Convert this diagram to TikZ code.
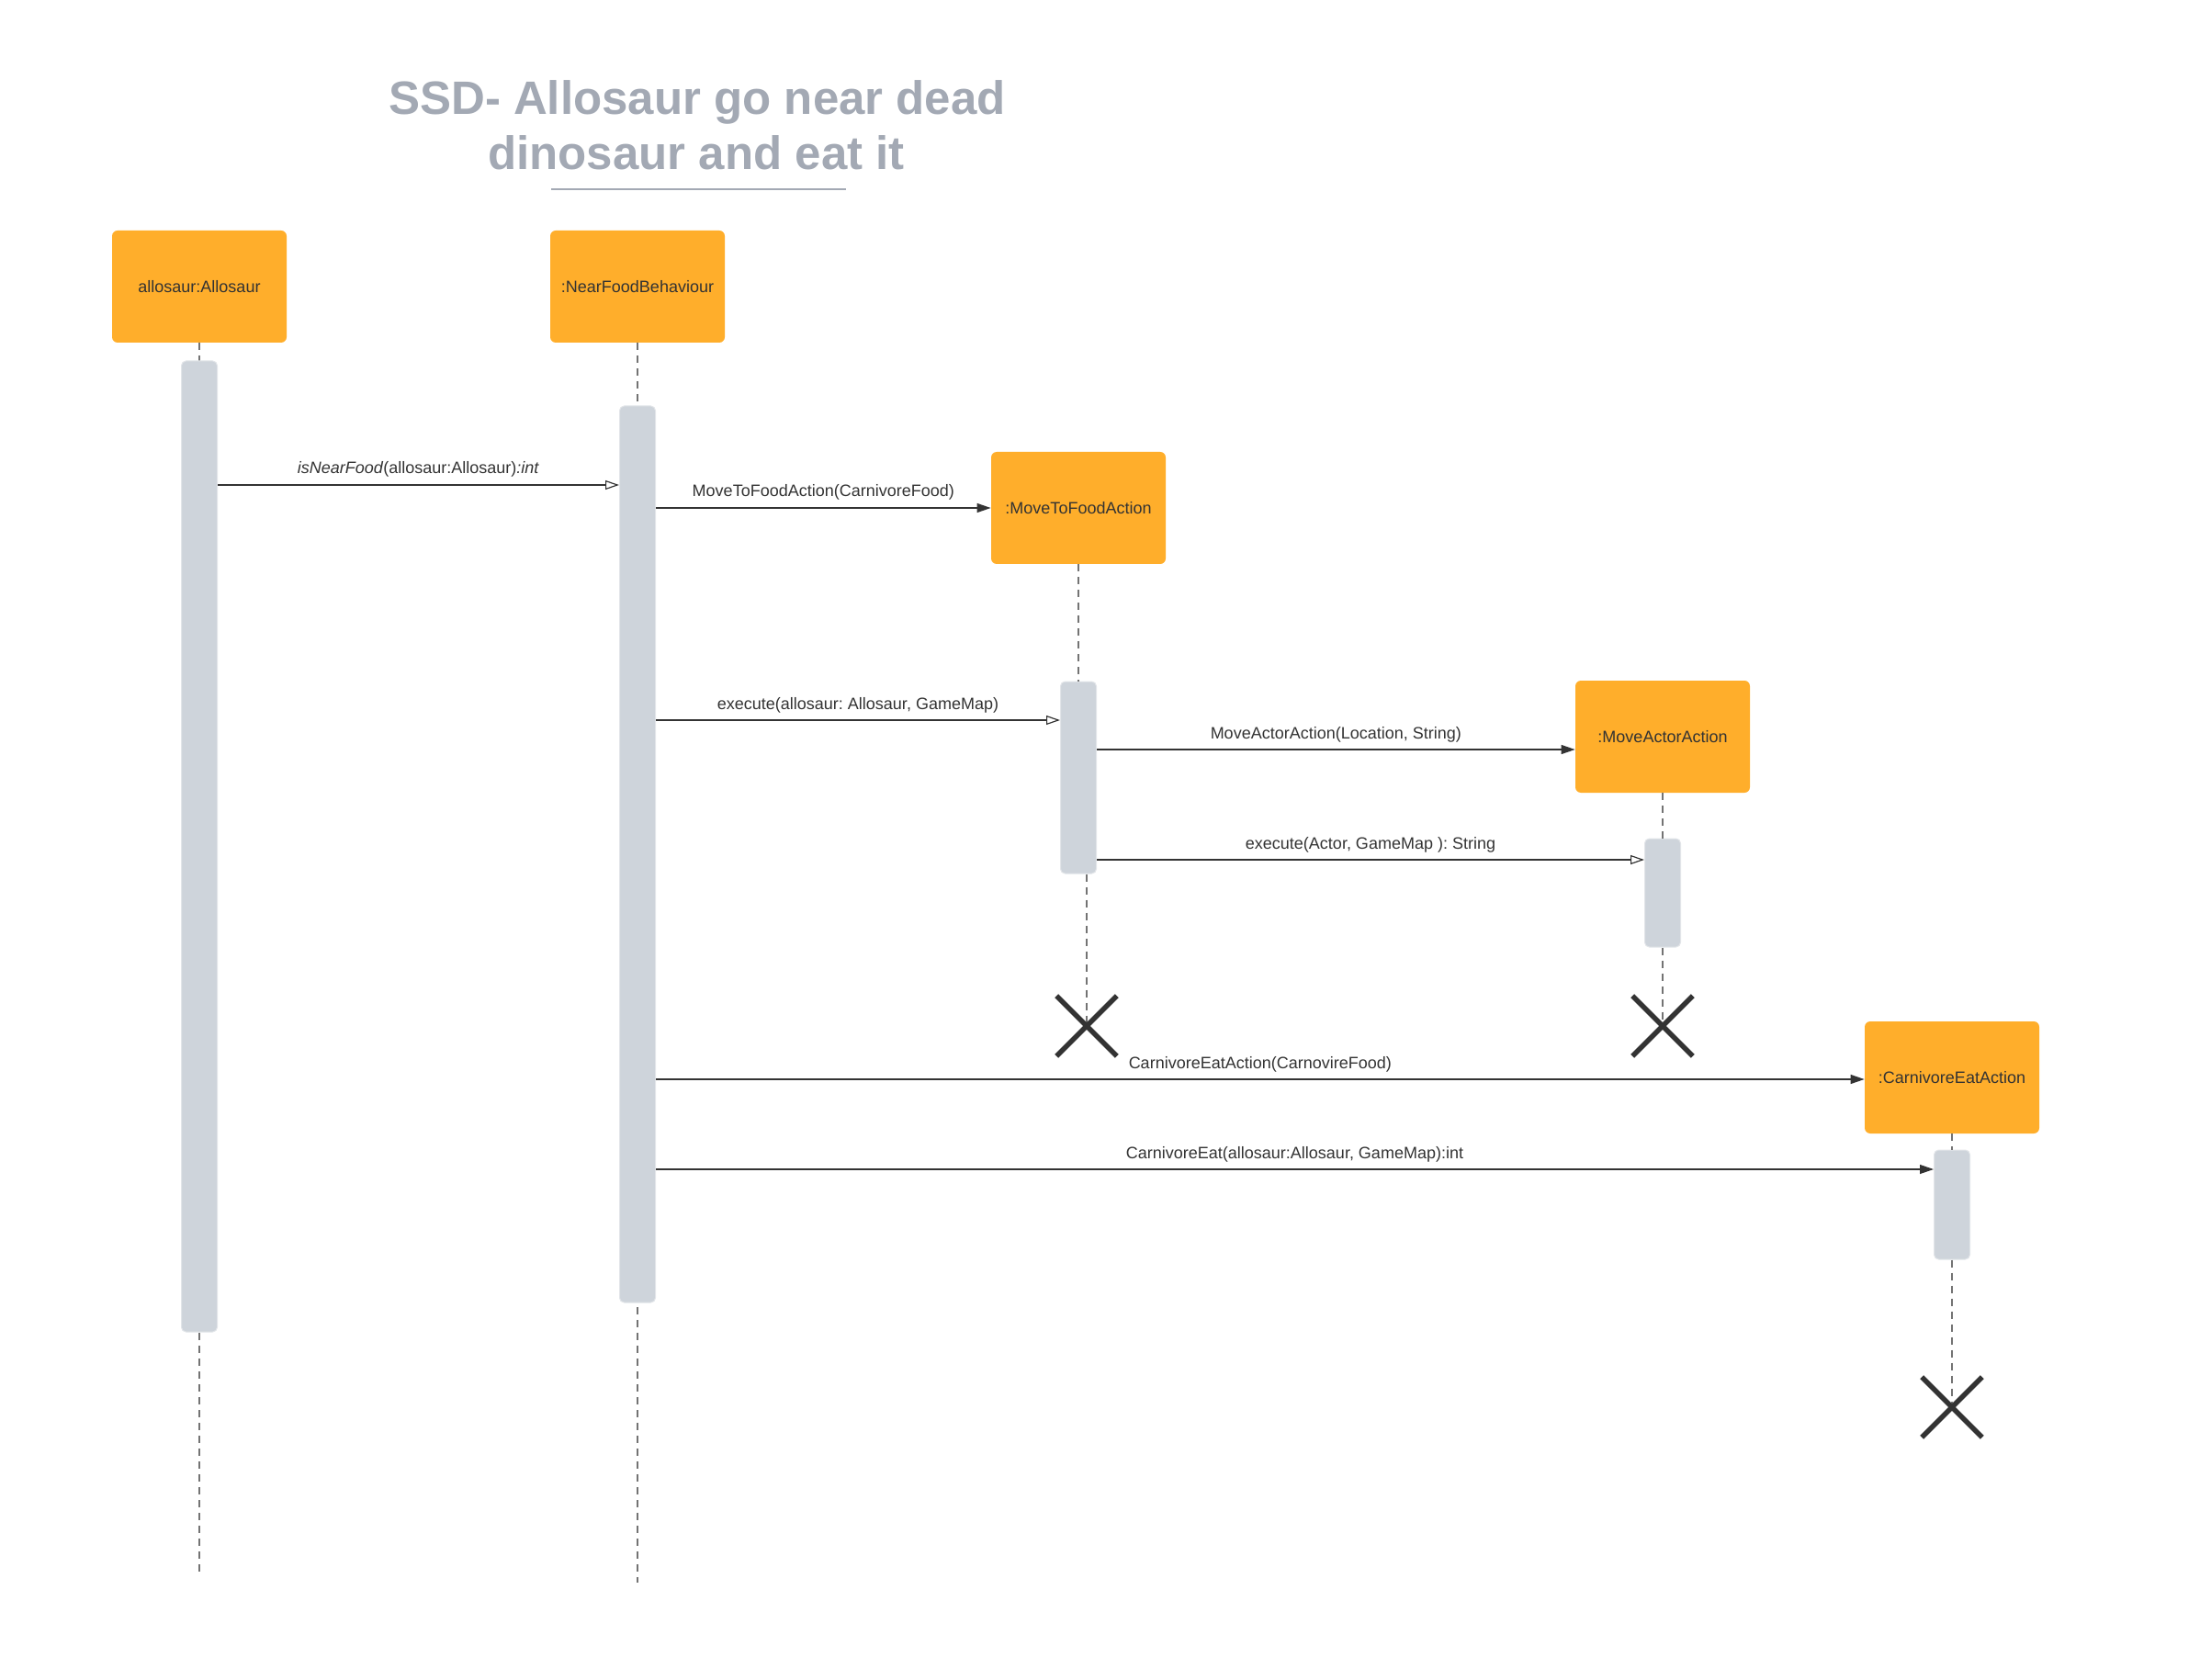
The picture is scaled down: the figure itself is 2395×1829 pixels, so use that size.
\documentclass[tikz,border=0pt]{standalone}
\usepackage{fontspec}
\setmainfont{Liberation Sans}
\frenchspacing
\usetikzlibrary{arrows.meta,shapes.misc}
\definecolor{lifeorange}{HTML}{FFAE2B}
\definecolor{actgray}{HTML}{CED4DB}
\definecolor{titlegray}{HTML}{A3A9B4}
\definecolor{ink}{HTML}{333333}

\begin{document}
\begin{tikzpicture}[x=0.5pt,y=-0.5pt]
  \tikzstyle{object}=[fill=lifeorange, rounded corners=3pt, minimum width=95pt, minimum height=61pt, inner sep=0pt, text=ink, font=\fontsize{9}{11}\selectfont]
  \tikzstyle{activation}=[fill=actgray, draw=actgray!60!white, line width=0.5pt, rounded corners=2.5pt, minimum width=19.5pt, inner sep=0pt]
  \tikzstyle{lifeline}=[draw=black!55, dash pattern=on 4pt off 3pt, line width=0.7pt]
  \tikzstyle{destroy}=[cross out, draw=ink, line width=2.8pt, minimum size=30pt, inner sep=0pt]
  \tikzstyle{call}=[draw=ink, line width=0.6pt, -{Triangle[length=7.5pt,width=5pt]}]
  \tikzstyle{send}=[draw=ink, line width=0.6pt, -{Triangle[open,length=7.5pt,width=5pt]}]
  \tikzstyle{msg}=[anchor=base, yshift=6pt, inner sep=0pt, text=ink, font=\fontsize{9}{11}\selectfont]
  \tikzstyle{title}=[anchor=base, inner sep=0pt, text=titlegray, font=\fontsize{25.5}{30}\selectfont\bfseries]

  \useasboundingbox (0,0) rectangle (2395,1829);

  \node[title] (title1) at (759,125) {SSD- Allosaur go near dead};
  \node[title] (title2) at (758,185) {dinosaur and eat it};
  \draw[titlegray, line width=1.3pt] (600,206) -- (921,206);

  \node[object] (alo) at (217,312) {allosaur:Allosaur};
  \node[object] (nfb) at (694,312) {:NearFoodBehaviour};
  \node[object] (mtf) at (1174,553) {:MoveToFoodAction};
  \node[object] (mva) at (1810,802) {:MoveActorAction};
  \node[object] (cea) at (2125,1173) {:CarnivoreEatAction};

  \coordinate (endA) at (217,1711);
  \coordinate (endB) at (694,1723);
  \coordinate (deadC) at (1183,1117);
  \coordinate (deadD) at (1810,1117);
  \coordinate (deadE) at (2125,1532);
  \draw[lifeline] (alo.south) -- (endA);
  \draw[lifeline] (nfb.south) -- (endB);

  \node[activation, minimum height=528.5pt] (actA) at (217,921.5) {};
  \node[activation, minimum height=488pt] (actB) at (694,930) {};
  \node[activation, minimum height=104.5pt] (actC) at (1174,846.5) {};
  \node[activation, minimum height=59pt] (actD) at (1810,972) {};
  \node[activation, minimum height=59.5pt] (actE) at (2125,1311.5) {};

  \draw[lifeline] (mtf.south) -- (actC.north);
  \draw[lifeline] (actC.south -| deadC) -- (deadC);
  \draw[lifeline] (mva.south) -- (actD.north);
  \draw[lifeline] (actD.south) -- (deadD);
  \draw[lifeline] (cea.south) -- (actE.north);
  \draw[lifeline] (actE.south) -- (deadE);

  \node[destroy] (xC) at (deadC) {};
  \node[destroy] (xD) at (deadD) {};
  \node[destroy] (xE) at (deadE) {};

  % messages
  \draw[send] (actA.east |- 0,528) -- (actB.west |- 0,528) node[msg, midway] {\textit{isNearFood}(allosaur:Allosaur)\textit{:int}};
  \draw[call] (actB.east |- mtf.west) -- (mtf.west) node[msg, midway] {MoveToFoodAction(CarnivoreFood)};
  \draw[send] (actB.east |- 0,784) -- (actC.west |- 0,784) node[msg, midway] {execute(allosaur: Allosaur, GameMap)};
  \draw[call] (actC.east |- 0,816) -- (mva.west |- 0,816) node[msg, midway] {MoveActorAction(Location, String)};
  \draw[send] (actC.east |- 0,936) -- (actD.west |- 0,936) node[msg, midway] {execute(Actor, GameMap ): String};
  \draw[call] (actB.east |- 0,1175) -- (cea.west |- 0,1175) node[msg, midway] {CarnivoreEatAction(CarnovireFood)};
  \draw[call] (actB.east |- 0,1273) -- (actE.west |- 0,1273) node[msg, midway] {CarnivoreEat(allosaur:Allosaur, GameMap):int};
\end{tikzpicture}
\end{document}
